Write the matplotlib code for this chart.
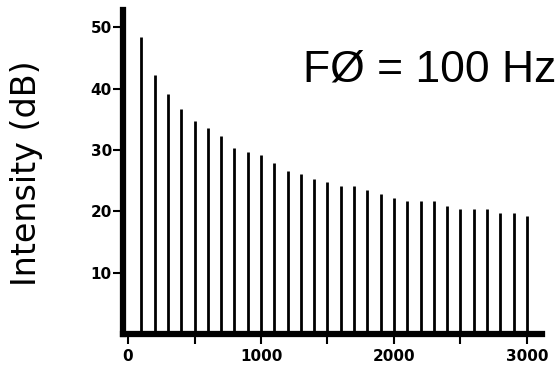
import numpy as np
import matplotlib
matplotlib.use("Agg")
import matplotlib.pyplot as plt

# harmonic spectrum, F0 = 100 Hz
freq = np.arange(100, 3100, 100)     # Hz
level = [48.4, 42.2, 39.1, 36.6, 34.7, 33.5, 32.3, 30.3, 29.7, 29.2,
         27.9, 26.5, 26.1, 25.3, 24.7, 24.1, 24.1, 23.4, 22.8, 22.1,
         21.6, 21.6, 21.6, 20.9, 20.4, 20.4, 20.4, 19.7, 19.7, 19.2]   # dB

yticks = [10, 20, 30, 40, 50]
xticks = [0, 1000, 2000, 3000]
xminor = [500, 1500, 2500]

fig = plt.figure(figsize=(5.58, 3.67), dpi=100)
ax = fig.add_axes([0.2204, 0.0899, 0.7509, 0.8828])

ax.vlines(freq, 0, level, color="black", linewidth=2.0)

ax.set_xlim(-38, 3113)
ax.set_ylim(0, 52.8)

for s in ["top", "right"]:
    ax.spines[s].set_visible(False)
ax.spines["left"].set_linewidth(4.5)
ax.spines["bottom"].set_linewidth(4.5)

ax.set_yticks(yticks)
ax.set_xticks(xticks)
ax.set_xticks(xminor, minor=True)
ax.tick_params(axis="both", which="both", direction="out", width=1.5,
               length=7, color="black")
ax.tick_params(axis="x", which="major", pad=4)
ax.tick_params(axis="y", which="major", pad=1)
for lab in ax.get_xticklabels() + ax.get_yticklabels():
    lab.set_fontweight("bold")
    lab.set_fontsize(11)
    lab.set_family("DejaVu Sans")

ax.set_ylabel("Intensity (dB)", fontsize=24, family="DejaVu Sans")
ax.yaxis.set_label_coords(-0.19, 0.497)

fig.text(0.543, 0.7766, "F\u00d8 = 100 Hz", fontsize=32, family="Liberation Sans",
         ha="left", va="baseline")

fig.savefig("out.png", dpi=100)
